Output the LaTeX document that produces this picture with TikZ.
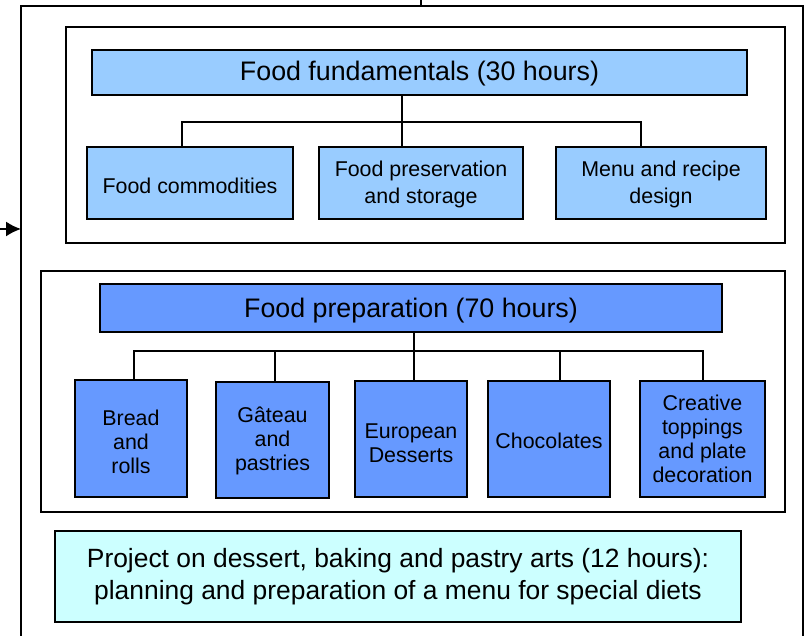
\documentclass[tikz,border=0pt]{standalone}
\usepackage{fontspec}
\setmainfont{Liberation Sans}
\usetikzlibrary{arrows.meta}
\definecolor{titleblue}{HTML}{99CCFF}
\definecolor{prepblue}{HTML}{6699FF}
\definecolor{projcyan}{HTML}{CCFFFF}
\begin{document}
\begin{tikzpicture}[x=1pt,y=-1pt,
  frame/.style={draw=black,line width=1.6pt},
  box/.style={draw=black,line width=1.6pt,inner sep=0pt},
  lightbox/.style={box,fill=titleblue},
  darkbox/.style={box,fill=prepblue},
  txt/.style={inner sep=0pt,align=center,text=black},
  bigtxt/.style={txt,font=\fontsize{26.8}{30}\selectfont},
  uptxt/.style={txt,font=\fontsize{21.4}{27}\selectfont},
  lowtxt/.style={txt,font=\fontsize{21.4}{24}\selectfont},
  link/.style={draw=black,line width=1.2pt}]
\useasboundingbox (0,0) rectangle (807,636);
% outer frame
\coordinate (olb) at (21,636);
\coordinate (olt) at (21,6);
\coordinate (ort) at (803,6);
\coordinate (orb) at (803,636);
\draw[frame] (olb) -- (olt) -- (ort) -- (orb);
\coordinate (tickb) at (421,6);
\coordinate (ticka) at (421,0);
\draw[link] (tickb) -- (ticka);
% incoming arrow
\coordinate (arrs) at (0,229);
\coordinate (arre) at (21,229);
\draw[line width=1.6pt,-{Latex[length=15pt,width=15pt]}] (arrs) -- (arre);
% frame 1
\node[frame,minimum width=719pt,minimum height=216pt,inner sep=0pt] (f1) at (425.5,135) {};
\node[lightbox,minimum width=655pt,minimum height=45pt] (ff) at (419.5,72.5) {};
\node[bigtxt] (fft) at ([yshift=-1.5pt]ff.center) {Food fundamentals (30 hours)};
\node[lightbox,minimum width=206pt,minimum height=72pt] (fc) at (190,183) {};
\node[uptxt] (fct) at ([yshift=-3pt]fc.center) {Food commodities};
\node[lightbox,minimum width=204pt,minimum height=72pt] (fp) at (421,183) {};
\node[uptxt] (fpt) at ([yshift=-1.5pt]fp.center) {Food preservation\\and storage};
\node[lightbox,minimum width=210pt,minimum height=72pt] (mr) at (661,183) {};
\node[uptxt] (mrt) at ([yshift=-1.5pt]mr.center) {Menu and recipe\\design};
\coordinate (j1) at (402,122);
\draw[link] (ff.south -| j1) -- (j1);
\draw[link] (182,147) |- (j1) -| (641,147);
\draw[link] (j1) -- (402,147);
% frame 2
\node[frame,minimum width=744pt,minimum height=241pt,inner sep=0pt] (f2) at (413,391.5) {};
\node[darkbox,minimum width=622pt,minimum height=48pt] (fpr) at (411,308) {};
\node[bigtxt] (fprt) at ([yshift=-2.5pt]fpr.center) {Food preparation (70 hours)};
\node[darkbox,minimum width=112pt,minimum height=117pt] (br) at (131,438.5) {};
\node[lowtxt] (brt) at ([yshift=-3.5pt]br.center) {Bread\\and\\rolls};
\node[darkbox,minimum width=113pt,minimum height=116pt] (ga) at (272.5,440) {};
\node[lowtxt] (gat) at ([yshift=-0.5pt]ga.center) {Gâteau\\and\\pastries};
\node[darkbox,minimum width=112pt,minimum height=116pt] (eu) at (411,439) {};
\node[lowtxt] (eut) at ([yshift=-4pt]eu.center) {European\\Desserts};
\node[darkbox,minimum width=122pt,minimum height=116pt] (ch) at (549,439) {};
\node[lowtxt] (cht) at ([yshift=-2pt]ch.center) {Chocolates};
\node[darkbox,minimum width=125pt,minimum height=116pt] (cr) at (702.5,439) {};
\node[lowtxt] (crt) at ([yshift=0pt]cr.center) {Creative\\toppings\\and plate\\decoration};
\coordinate (j2) at (414,351);
\draw[link] (fpr.south -| j2) -- (j2);
\draw[link] (134,380) |- (j2) -| (703,381);
\draw[link] (275,351) -- (275,382);
\draw[link] (j2) -- (414,381);
\draw[link] (560,351) -- (560,381);
% project
\node[box,fill=projcyan,minimum width=686pt,minimum height=91pt] (pj) at (398,576.5) {};
\node[txt,font=\fontsize{26.4}{32}\selectfont] (pjt) at (pj.center) {Project on dessert, baking and pastry arts (12 hours):\\ planning and preparation of a menu for special diets};
\end{tikzpicture}
\end{document}
